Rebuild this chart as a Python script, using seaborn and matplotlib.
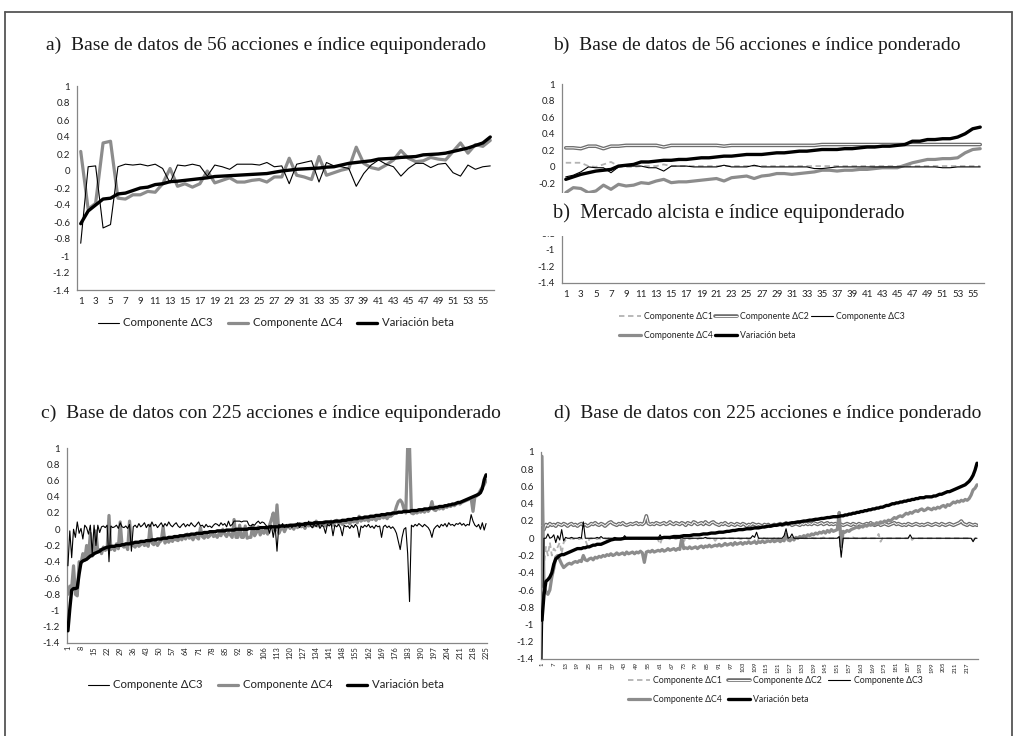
import matplotlib
matplotlib.use("Agg")
import matplotlib.pyplot as plt
import matplotlib.patheffects as pe
from matplotlib.lines import Line2D
from matplotlib.patches import Rectangle
import seaborn as sns

# ------------------------------------------------------------------ data
title_a = "a)  Base de datos de 56 acciones e índice equiponderado"
title_b = "b)  Base de datos de 56 acciones e índice ponderado"
title_b2 = "b)  Mercado alcista e índice equiponderado"
title_c = "c)  Base de datos con 225 acciones e índice equiponderado"
title_d = "d)  Base de datos con 225 acciones e índice ponderado"

lab_c1 = "Componente ΔC1"
lab_c2 = "Componente ΔC2"
lab_c3 = "Componente ΔC3"
lab_c4 = "Componente ΔC4"
lab_beta = "Variación beta"

y_ticks = [1, 0.8, 0.6, 0.4, 0.2, 0, -0.2, -0.4, -0.6, -0.8, -1, -1.2, -1.4]
y_tick_labels = ["1", "0.8", "0.6", "0.4", "0.2", "0", "-0.2", "-0.4", "-0.6",
                 "-0.8", "-1", "-1.2", "-1.4"]

# panel a (56 acciones, equiponderado)
a_c3 = [-0.85, 0.05, 0.06, -0.67, -0.63, 0.05, 0.08, 0.07, 0.08, 0.06,
        0.08, 0.03, -0.14, 0.07, 0.06, 0.08, 0.06, -0.06, 0.07, 0.05,
        0.02, 0.08, 0.08, 0.08, 0.07, 0.10, 0.05, 0.06, -0.15, 0.08,
        0.10, 0.12, -0.13, 0.10, 0.06, 0.05, 0.03, -0.18, -0.03, 0.07,
        0.13, 0.08, 0.05, -0.06, 0.03, 0.09, 0.09, 0.04, 0.08, 0.09,
        -0.02, -0.06, 0.07, 0.02, 0.05, 0.06]
a_c4 = [0.23, -0.45, -0.38, 0.33, 0.35, -0.32, -0.33, -0.28, -0.28, -0.24,
        -0.25, -0.15, 0.03, -0.18, -0.15, -0.19, -0.15, 0.00, -0.14, -0.11,
        -0.08, -0.13, -0.13, -0.11, -0.10, -0.13, -0.07, -0.07, 0.15, -0.05,
        -0.07, -0.10, 0.17, -0.05, -0.02, 0.01, 0.03, 0.28, 0.09, 0.04,
        0.02, 0.07, 0.13, 0.24, 0.15, 0.11, 0.12, 0.16, 0.14, 0.13,
        0.23, 0.33, 0.21, 0.31, 0.29, 0.36]
a_beta = [-0.62, -0.47, -0.40, -0.33, -0.32, -0.27, -0.26, -0.23, -0.20, -0.19,
          -0.16, -0.15, -0.125, -0.12, -0.11, -0.10, -0.09, -0.08, -0.065, -0.06,
          -0.055, -0.05, -0.045, -0.04, -0.035, -0.03, -0.015, 0.0, 0.01, 0.02,
          0.025, 0.03, 0.035, 0.045, 0.05, 0.07, 0.09, 0.10, 0.11, 0.12,
          0.14, 0.145, 0.15, 0.16, 0.165, 0.17, 0.19, 0.195, 0.20, 0.21,
          0.23, 0.25, 0.27, 0.30, 0.33, 0.40]

# panel b (56 acciones, ponderado)
b_c1 = [0.05, 0.05, 0.05, 0.01, 0.00, 0.03, 0.06, 0.01, 0.00, 0.00,
        0.01, 0.01, 0.01, 0.03, 0.01, 0.01, 0.01, 0.01, 0.01, 0.01,
        0.01, 0.01, 0.01, 0.01, 0.01, 0.01, 0.01, 0.01, 0.01, 0.01,
        0.01, 0.01, 0.01, 0.01, 0.01, 0.01, 0.01, 0.01, 0.01, 0.01,
        0.01, 0.01, 0.01, 0.01, 0.01, 0.01, 0.01, 0.01, 0.01, 0.01,
        0.01, 0.01, 0.01, 0.01, 0.01, 0.01]
b_c2 = [0.23, 0.23, 0.22, 0.25, 0.25, 0.22, 0.25, 0.25, 0.26, 0.26,
        0.26, 0.26, 0.26, 0.24, 0.26, 0.26, 0.26, 0.26, 0.26, 0.26,
        0.26, 0.25, 0.26, 0.26, 0.26, 0.26, 0.26, 0.26, 0.26, 0.26,
        0.26, 0.26, 0.26, 0.26, 0.27, 0.27, 0.27, 0.27, 0.27, 0.27,
        0.27, 0.27, 0.27, 0.27, 0.27, 0.27, 0.27, 0.27, 0.27, 0.27,
        0.27, 0.27, 0.27, 0.27, 0.27, 0.27]
b_c3 = [-0.12, -0.10, -0.06, 0.00, -0.01, -0.01, -0.07, 0.00, 0.01, 0.01,
        0.01, -0.01, -0.01, -0.05, 0.01, 0.01, 0.01, 0.00, 0.00, 0.00,
        0.00, 0.02, 0.00, 0.00, 0.00, 0.02, 0.00, 0.00, 0.00, 0.00,
        0.00, 0.00, 0.00, -0.02, -0.02, -0.01, 0.00, 0.00, 0.00, 0.00,
        0.00, 0.00, 0.00, 0.00, 0.00, 0.00, 0.00, 0.00, 0.00, 0.00,
        -0.01, -0.01, 0.00, 0.00, 0.00, 0.00]
b_c4 = [-0.31, -0.25, -0.26, -0.31, -0.29, -0.22, -0.27, -0.21, -0.23, -0.22,
        -0.19, -0.20, -0.17, -0.15, -0.19, -0.18, -0.18, -0.17, -0.16, -0.15,
        -0.14, -0.17, -0.13, -0.12, -0.11, -0.14, -0.11, -0.10, -0.08, -0.08,
        -0.09, -0.08, -0.07, -0.06, -0.04, -0.04, -0.05, -0.04, -0.04, -0.03,
        -0.03, -0.02, -0.01, -0.01, -0.01, 0.02, 0.05, 0.07, 0.09, 0.09,
        0.10, 0.10, 0.11, 0.17, 0.21, 0.22]
b_beta = [-0.15, -0.12, -0.09, -0.07, -0.05, -0.04, -0.03, 0.01, 0.02, 0.03,
          0.06, 0.06, 0.07, 0.08, 0.08, 0.09, 0.09, 0.10, 0.11, 0.11,
          0.12, 0.13, 0.13, 0.14, 0.15, 0.15, 0.15, 0.16, 0.17, 0.17,
          0.18, 0.19, 0.19, 0.20, 0.21, 0.21, 0.21, 0.22, 0.22, 0.23,
          0.24, 0.24, 0.25, 0.25, 0.26, 0.27, 0.31, 0.31, 0.33, 0.33,
          0.34, 0.34, 0.36, 0.40, 0.46, 0.48]

# panel c (225 acciones, equiponderado)
c_c3 = [-0.45, -0.02, -0.35, 0.00, -0.10, 0.09, -0.05, 0.01, -0.12, 0.05,
        0.02, -0.06, 0.05, -0.30, 0.05, -0.20, 0.05, -0.04, 0.03, 0.04,
        0.02, 0.05, -0.40, 0.04, 0.02, 0.03, 0.05, 0.01, 0.08, 0.03,
        0.02, 0.04, 0.01, 0.06, -0.27, 0.03, 0.05, 0.02, 0.07, 0.03,
        0.05, 0.08, 0.02, 0.06, 0.03, 0.09, 0.04, 0.06, 0.02, 0.05,
        0.08, 0.03, 0.07, 0.04, 0.09, 0.05, 0.03, 0.06, 0.08, 0.04,
        0.02, 0.05, 0.07, 0.03, 0.06, 0.04, 0.08, 0.05, 0.03, 0.06,
        0.09, 0.04, 0.05, 0.02, 0.06, 0.03, 0.04, 0.02, 0.05, 0.07,
        0.06, 0.04, 0.08, 0.05, 0.07, 0.03, 0.10, 0.04, 0.06, 0.10,
        0.10, 0.10, 0.10, 0.09, 0.10, 0.10, 0.10, 0.05, 0.04, 0.06,
        0.05, 0.08, 0.10, 0.07, 0.09, 0.08, 0.05, 0.03, -0.05, 0.05,
        -0.10, 0.04, -0.27, 0.06, 0.03, 0.07, 0.02, 0.06, 0.03, 0.05,
        0.02, 0.06, 0.04, 0.08, 0.02, 0.05, 0.07, 0.03, 0.06, 0.10,
        0.04, 0.02, 0.06, 0.03, 0.08, 0.01, 0.05, 0.03, -0.05, 0.06,
        0.04, 0.07, -0.08, 0.05, 0.03, 0.06, 0.02, -0.08, 0.05, 0.03,
        0.04, 0.01, 0.05, 0.02, 0.06, 0.03, -0.10, 0.04, 0.02, 0.05,
        0.03, 0.06, 0.02, 0.04, 0.01, 0.05, 0.03, 0.04, -0.10, 0.03,
        0.05, 0.02, 0.04, 0.01, 0.03, 0.00, -0.05, -0.15, -0.25, -0.10,
        0.00, 0.02, -0.30, -0.89, 0.05, 0.03, 0.06, 0.04, 0.07, 0.05,
        0.03, 0.06, 0.04, 0.02, -0.02, -0.10, 0.00, 0.03, 0.05, 0.02,
        0.06, 0.04, 0.07, 0.03, 0.08, 0.05, 0.06, 0.04, 0.07, 0.06,
        0.08, 0.05, 0.07, 0.04, 0.06, 0.05, 0.18, 0.10, 0.05, 0.03,
        0.06, 0.00, 0.08, -0.01, 0.07]
c_c4 = [-0.80, -0.70, -0.72, -0.45, -0.80, -0.82, -0.40, -0.42, -0.30, -0.38,
        -0.20, -0.35, -0.05, -0.33, -0.30, -0.02, -0.28, -0.25, -0.30, -0.22,
        -0.26, -0.24, 0.17, -0.25, -0.22, -0.26, -0.18, -0.24, 0.09, -0.20,
        -0.22, -0.19, -0.25, 0.10, -0.18, -0.20, -0.22, -0.17, -0.21, -0.19,
        -0.16, -0.20, -0.18, -0.21, 0.05, -0.17, -0.19, -0.15, -0.20, -0.16,
        -0.14, 0.03, -0.17, -0.13, -0.16, -0.12, -0.15, -0.11, -0.13, -0.14,
        -0.10, -0.13, -0.08, -0.12, -0.06, -0.11, -0.09, -0.13, -0.07, -0.10,
        -0.12, 0.02, -0.09, -0.11, -0.06, -0.10, -0.08, -0.03, -0.09, -0.07,
        -0.10, -0.05, -0.08, 0.00, -0.06, -0.09, -0.04, -0.07, -0.10, 0.12,
        -0.10, -0.10, 0.05, -0.10, -0.10, 0.04, -0.11, -0.10, -0.10, 0.05,
        -0.08, -0.04, 0.03, -0.07, -0.02, -0.05, 0.00, -0.06, 0.05, 0.12,
        0.20, -0.02, 0.30, -0.05, 0.00, 0.03, -0.03, 0.02, 0.05, 0.01,
        0.04, 0.00, 0.06, 0.02, 0.07, 0.03, 0.05, 0.01, 0.06, 0.04,
        0.08, 0.03, 0.05, 0.10, 0.04, 0.07, 0.05, 0.09, 0.04, 0.08,
        0.06, 0.10, 0.05, 0.08, 0.11, 0.07, 0.09, 0.06, 0.10, 0.08,
        0.10, 0.07, 0.11, 0.09, 0.12, 0.08, 0.16, 0.10, 0.12, 0.11,
        0.13, 0.10, 0.14, 0.12, 0.15, 0.11, 0.14, 0.13, 0.17, 0.14,
        0.16, 0.13, 0.17, 0.16, 0.18, 0.20, 0.28, 0.34, 0.36, 0.33,
        0.25, 0.20, 1.02, 1.02, 0.20, 0.19, 0.21, 0.20, 0.22, 0.21,
        0.23, 0.21, 0.24, 0.22, 0.25, 0.34, 0.24, 0.23, 0.26, 0.25,
        0.27, 0.25, 0.28, 0.27, 0.29, 0.28, 0.30, 0.29, 0.31, 0.32,
        0.31, 0.33, 0.34, 0.35, 0.36, 0.37, 0.38, 0.22, 0.40, 0.41,
        0.44, 0.48, 0.52, 0.55, 0.60]
c_beta = [-1.25, -0.98, -0.75, -0.73, -0.73, -0.72, -0.55, -0.41, -0.39, -0.38,
          -0.37, -0.35, -0.33, -0.32, -0.30, -0.29, -0.28, -0.27, -0.25, -0.24,
          -0.23, -0.22, -0.22, -0.21, -0.21, -0.21, -0.20, -0.20, -0.20, -0.19,
          -0.19, -0.18, -0.18, -0.18, -0.17, -0.17, -0.16, -0.16, -0.16, -0.15,
          -0.15, -0.15, -0.14, -0.14, -0.14, -0.13, -0.13, -0.13, -0.12, -0.12,
          -0.12, -0.11, -0.11, -0.11, -0.10, -0.10, -0.10, -0.09, -0.09, -0.09,
          -0.08, -0.08, -0.08, -0.07, -0.07, -0.07, -0.06, -0.06, -0.06, -0.05,
          -0.05, -0.05, -0.05, -0.04, -0.04, -0.04, -0.03, -0.03, -0.03, -0.03,
          -0.02, -0.02, -0.02, -0.02, -0.02, -0.01, -0.01, -0.01, -0.01, -0.01,
          0.00, 0.00, 0.00, 0.00, 0.00, 0.00, 0.00, 0.01, 0.01, 0.01,
          0.01, 0.01, 0.01, 0.02, 0.02, 0.02, 0.02, 0.02, 0.03, 0.03,
          0.03, 0.03, 0.03, 0.03, 0.04, 0.04, 0.04, 0.04, 0.04, 0.05,
          0.05, 0.05, 0.05, 0.06, 0.06, 0.06, 0.06, 0.07, 0.07, 0.07,
          0.07, 0.07, 0.08, 0.08, 0.08, 0.08, 0.08, 0.08, 0.09, 0.09,
          0.09, 0.09, 0.09, 0.10, 0.10, 0.10, 0.10, 0.11, 0.11, 0.11,
          0.12, 0.12, 0.12, 0.13, 0.13, 0.13, 0.14, 0.14, 0.14, 0.15,
          0.15, 0.15, 0.16, 0.16, 0.16, 0.17, 0.17, 0.17, 0.18, 0.18,
          0.18, 0.19, 0.19, 0.19, 0.20, 0.20, 0.20, 0.21, 0.21, 0.21,
          0.22, 0.22, 0.22, 0.22, 0.23, 0.23, 0.23, 0.23, 0.24, 0.24,
          0.24, 0.25, 0.25, 0.25, 0.26, 0.26, 0.26, 0.27, 0.27, 0.28,
          0.28, 0.28, 0.29, 0.29, 0.30, 0.30, 0.31, 0.31, 0.32, 0.33,
          0.33, 0.34, 0.35, 0.36, 0.37, 0.38, 0.39, 0.40, 0.41, 0.42,
          0.43, 0.45, 0.50, 0.61, 0.67]

# panel d (225 acciones, ponderado; 222 valores)
d_c1 = [-1.10, -0.30, -0.10, -0.20, -0.05, -0.20, -0.12, -0.15, -0.10, -0.05,
        -0.18, -0.05, -0.02, -0.01, -0.01, 0.00, -0.01, 0.00, -0.01, -0.01,
        0.00, -0.01, -0.02, -0.08, -0.01, 0.00, -0.01, 0.00, -0.01, 0.00,
        -0.01, 0.00, 0.00, -0.01, 0.00, 0.00, -0.01, 0.00, 0.00, -0.01,
        0.00, 0.00, -0.01, 0.00, 0.00, -0.01, 0.00, 0.00, 0.00, -0.01,
        0.00, 0.00, -0.01, 0.00, 0.00, 0.00, -0.01, 0.00, 0.00, -0.02,
        -0.07, 0.00, -0.01, 0.00, 0.00, -0.01, 0.00, 0.00, -0.01, 0.00,
        0.00, -0.01, -0.04, 0.00, 0.00, -0.01, 0.00, 0.00, 0.00, -0.01,
        0.00, 0.00, -0.01, 0.00, 0.00, 0.00, -0.01, 0.00, -0.03, 0.00,
        0.00, -0.01, 0.00, 0.00, -0.01, 0.00, 0.00, 0.00, -0.01, 0.00,
        0.00, -0.01, 0.00, 0.00, 0.00, -0.01, 0.00, 0.00, -0.02, -0.08,
        0.00, -0.01, 0.00, 0.00, -0.01, 0.00, 0.00, -0.01, 0.00, -0.04,
        0.00, -0.01, 0.00, 0.00, 0.01, 0.00, 0.00, 0.00, 0.00, 0.00,
        0.00, 0.00, 0.01, 0.00, 0.00, 0.00, 0.00, 0.01, 0.00, 0.00,
        0.00, 0.00, 0.00, 0.01, 0.00, 0.00, 0.00, 0.00, 0.00, 0.00,
        0.01, 0.00, -0.03, 0.00, 0.00, 0.00, 0.00, 0.00, 0.01, 0.00,
        0.00, 0.00, 0.00, 0.00, 0.00, 0.01, 0.00, 0.00, 0.00, 0.00,
        0.00, 0.05, -0.04, 0.00, 0.00, 0.00, 0.00, 0.00, 0.00, 0.00,
        0.00, 0.00, 0.00, 0.00, 0.00, 0.00, 0.00, 0.03, -0.02, 0.00,
        0.00, 0.00, 0.00, 0.00, 0.00, 0.00, 0.00, 0.00, 0.00, 0.00,
        0.00, 0.00, 0.00, 0.00, 0.00, 0.00, 0.00, 0.00, 0.00, 0.00,
        0.00, 0.00, 0.00, 0.00, 0.00, 0.00, 0.00, 0.00, 0.00, -0.02,
        0.00, 0.00]
d_c2 = [0.15, 0.10, 0.16, 0.14, 0.17, 0.15, 0.16, 0.14, 0.17, 0.16,
        0.15, 0.17, 0.16, 0.14, 0.16, 0.17, 0.15, 0.16, 0.14, 0.16,
        0.17, 0.15, 0.16, 0.14, 0.15, 0.17, 0.16, 0.18, 0.16, 0.15,
        0.17, 0.16, 0.14, 0.16, 0.18, 0.19, 0.17, 0.16, 0.15, 0.17,
        0.16, 0.18, 0.16, 0.15, 0.16, 0.17, 0.16, 0.17, 0.18, 0.16,
        0.17, 0.16, 0.18, 0.26, 0.17, 0.16, 0.17, 0.16, 0.18, 0.17,
        0.16, 0.17, 0.18, 0.16, 0.17, 0.19, 0.17, 0.16, 0.18, 0.17,
        0.16, 0.18, 0.17, 0.15, 0.18, 0.17, 0.16, 0.19, 0.18, 0.16,
        0.17, 0.18, 0.16, 0.19, 0.17, 0.16, 0.18, 0.19, 0.17, 0.16,
        0.15, 0.17, 0.16, 0.18, 0.16, 0.15, 0.17, 0.16, 0.15, 0.17,
        0.16, 0.15, 0.17, 0.16, 0.14, 0.16, 0.15, 0.17, 0.16, 0.15,
        0.16, 0.15, 0.14, 0.16, 0.15, 0.16, 0.14, 0.15, 0.16, 0.15,
        0.16, 0.17, 0.15, 0.16, 0.18, 0.16, 0.17, 0.15, 0.16, 0.17,
        0.16, 0.15, 0.17, 0.16, 0.18, 0.16, 0.17, 0.16, 0.18, 0.17,
        0.16, 0.17, 0.18, 0.16, 0.17, 0.18, 0.16, 0.17, 0.16, 0.17,
        0.16, 0.17, 0.16, 0.15, 0.16, 0.17, 0.16, 0.15, 0.17, 0.16,
        0.15, 0.17, 0.16, 0.15, 0.16, 0.17, 0.16, 0.18, 0.16, 0.15,
        0.16, 0.17, 0.15, 0.16, 0.17, 0.16, 0.15, 0.16, 0.17, 0.18,
        0.16, 0.17, 0.16, 0.15, 0.16, 0.15, 0.17, 0.16, 0.15, 0.16,
        0.17, 0.16, 0.15, 0.16, 0.15, 0.16, 0.17, 0.16, 0.15, 0.16,
        0.17, 0.16, 0.15, 0.17, 0.16, 0.15, 0.16, 0.17, 0.16, 0.15,
        0.16, 0.17, 0.18, 0.20, 0.17, 0.16, 0.15, 0.17, 0.16, 0.15,
        0.16, 0.15]
d_c3 = [-1.45, 0.00, 0.00, 0.05, 0.00, 0.01, 0.04, -0.05, 0.03, -0.02,
        0.10, -0.03, 0.01, 0.00, 0.00, 0.01, 0.00, 0.00, 0.00, 0.01,
        0.00, 0.19, 0.00, 0.00, 0.00, 0.00, 0.00, 0.00, 0.01, 0.00,
        0.02, 0.00, 0.00, 0.00, 0.00, 0.00, 0.00, 0.01, 0.00, 0.00,
        0.00, 0.00, 0.03, 0.00, 0.00, 0.00, 0.00, 0.00, 0.00, 0.00,
        0.00, 0.00, 0.00, 0.00, 0.00, 0.00, 0.00, 0.00, 0.00, 0.00,
        0.04, 0.00, 0.00, 0.00, 0.00, 0.00, 0.00, 0.00, 0.00, 0.00,
        0.00, 0.01, 0.00, 0.00, 0.00, 0.00, 0.00, 0.00, 0.00, 0.00,
        0.00, 0.00, 0.00, 0.01, 0.00, 0.00, 0.00, 0.00, 0.00, 0.00,
        0.00, 0.00, 0.00, 0.00, 0.00, 0.00, 0.00, 0.00, 0.00, 0.00,
        0.00, 0.00, 0.00, 0.00, 0.00, 0.00, 0.00, 0.03, 0.01, 0.07,
        0.00, 0.00, 0.00, 0.00, 0.00, 0.00, 0.00, 0.00, 0.00, 0.00,
        0.00, 0.00, 0.00, 0.03, 0.11, 0.00, 0.01, 0.05, 0.00, 0.00,
        0.00, 0.00, 0.00, 0.00, 0.00, 0.00, 0.00, 0.00, 0.00, 0.00,
        0.00, 0.00, 0.00, 0.00, 0.00, 0.00, 0.00, 0.00, 0.00, 0.00,
        0.00, 0.02, -0.22, 0.00, 0.00, 0.00, 0.00, 0.00, 0.00, 0.00,
        0.00, 0.00, 0.00, 0.00, 0.00, 0.00, 0.00, 0.00, 0.00, 0.00,
        0.00, 0.00, 0.00, 0.00, 0.00, 0.00, 0.00, 0.00, 0.00, 0.00,
        0.00, 0.00, 0.00, 0.00, 0.00, 0.00, 0.00, 0.04, 0.00, 0.00,
        0.00, 0.00, 0.00, 0.00, 0.00, 0.00, 0.00, 0.00, 0.00, 0.00,
        0.00, 0.00, 0.00, 0.00, 0.00, 0.00, 0.00, 0.00, 0.00, 0.00,
        0.00, 0.00, 0.00, 0.00, 0.00, 0.00, 0.00, 0.00, 0.00, -0.04,
        0.00, 0.00]
d_c4 = [0.95, -0.55, -0.62, -0.65, -0.60, -0.45, -0.35, -0.22, -0.20, -0.25,
        -0.30, -0.34, -0.32, -0.30, -0.29, -0.30, -0.28, -0.27, -0.28, -0.26,
        -0.27, -0.20, -0.25, -0.26, -0.24, -0.23, -0.25, -0.22, -0.23, -0.21,
        -0.22, -0.20, -0.21, -0.19, -0.20, -0.18, -0.20, -0.19, -0.17, -0.19,
        -0.18, -0.17, -0.19, -0.16, -0.18, -0.17, -0.16, -0.18, -0.16, -0.17,
        -0.15, -0.17, -0.28, -0.16, -0.15, -0.16, -0.14, -0.16, -0.15, -0.14,
        -0.15, -0.13, -0.15, -0.14, -0.12, -0.14, -0.13, -0.12, -0.14, -0.12,
        -0.13, 0.00, -0.12, -0.11, -0.12, -0.10, -0.12, -0.11, -0.10, -0.12,
        -0.10, -0.09, -0.11, -0.09, -0.10, -0.08, -0.10, -0.09, -0.08, -0.09,
        -0.07, -0.09, -0.08, -0.06, -0.08, -0.07, -0.06, -0.08, -0.05, -0.07,
        -0.06, -0.05, -0.07, -0.05, -0.06, -0.04, -0.06, -0.05, -0.04, -0.06,
        -0.04, -0.05, -0.03, -0.05, -0.04, -0.03, -0.04, -0.02, -0.04, -0.03,
        -0.02, -0.04, -0.02, -0.03, 0.05, -0.02, -0.03, 0.00, -0.02, 0.01,
        0.00, 0.02, 0.01, 0.03, 0.02, 0.04, 0.03, 0.05, 0.04, 0.06,
        0.05, 0.07, 0.06, 0.08, 0.06, 0.09, 0.07, 0.10, 0.08, 0.09,
        0.10, 0.30, -0.10, 0.08, 0.07, 0.09, 0.08, 0.10, 0.11, 0.12,
        0.13, 0.12, 0.14, 0.13, 0.15, 0.14, 0.16, 0.15, 0.17, 0.16,
        0.18, 0.17, 0.19, 0.18, 0.20, 0.19, 0.21, 0.20, 0.22, 0.24,
        0.23, 0.25, 0.26, 0.25, 0.27, 0.29, 0.28, 0.30, 0.29, 0.31,
        0.32, 0.31, 0.33, 0.34, 0.32, 0.33, 0.35, 0.34, 0.33, 0.35,
        0.34, 0.36, 0.35, 0.37, 0.38, 0.36, 0.39, 0.38, 0.40, 0.42,
        0.41, 0.43, 0.42, 0.44, 0.43, 0.45, 0.44, 0.46, 0.50, 0.56,
        0.58, 0.62]
d_beta = [-0.95, -0.66, -0.50, -0.48, -0.45, -0.40, -0.30, -0.24, -0.22, -0.20,
          -0.19, -0.19, -0.18, -0.17, -0.16, -0.15, -0.14, -0.13, -0.12, -0.12,
          -0.12, -0.11, -0.11, -0.10, -0.10, -0.09, -0.08, -0.08, -0.07, -0.07,
          -0.07, -0.06, -0.05, -0.04, -0.03, -0.02, -0.015, -0.01, -0.01, -0.01,
          -0.01, -0.005, 0.00, 0.00, 0.00, 0.00, 0.00, 0.00, 0.00, 0.00,
          0.00, 0.00, 0.00, 0.00, 0.00, 0.00, 0.00, 0.00, 0.00, 0.00,
          0.00, 0.005, 0.01, 0.01, 0.01, 0.01, 0.015, 0.02, 0.02, 0.02,
          0.02, 0.025, 0.03, 0.03, 0.03, 0.03, 0.035, 0.04, 0.04, 0.04,
          0.04, 0.045, 0.05, 0.05, 0.05, 0.055, 0.06, 0.06, 0.06, 0.065,
          0.07, 0.07, 0.07, 0.075, 0.08, 0.08, 0.085, 0.09, 0.09, 0.095,
          0.10, 0.10, 0.10, 0.105, 0.11, 0.11, 0.11, 0.115, 0.12, 0.12,
          0.12, 0.125, 0.13, 0.13, 0.135, 0.14, 0.14, 0.145, 0.15, 0.15,
          0.155, 0.16, 0.16, 0.165, 0.17, 0.17, 0.175, 0.18, 0.18, 0.185,
          0.19, 0.19, 0.195, 0.20, 0.20, 0.205, 0.21, 0.21, 0.215, 0.22,
          0.22, 0.225, 0.23, 0.23, 0.235, 0.24, 0.24, 0.245, 0.25, 0.25,
          0.25, 0.255, 0.26, 0.26, 0.27, 0.27, 0.28, 0.28, 0.29, 0.29,
          0.30, 0.30, 0.31, 0.31, 0.32, 0.32, 0.33, 0.33, 0.34, 0.34,
          0.35, 0.35, 0.36, 0.36, 0.37, 0.38, 0.38, 0.39, 0.40, 0.40,
          0.41, 0.41, 0.42, 0.42, 0.43, 0.43, 0.44, 0.44, 0.45, 0.45,
          0.46, 0.46, 0.47, 0.47, 0.47, 0.48, 0.48, 0.48, 0.48, 0.49,
          0.49, 0.50, 0.51, 0.51, 0.52, 0.53, 0.54, 0.54, 0.55, 0.56,
          0.57, 0.58, 0.59, 0.60, 0.61, 0.62, 0.64, 0.66, 0.69, 0.73,
          0.79, 0.87]

# ------------------------------------------------------------------ style
sns.set_style("white")
SANS = ["Lato", "DejaVu Sans"]
SERIF = ["Liberation Serif", "DejaVu Serif"]
plt.rcParams["font.family"] = SANS

W, H = 1017, 736
fig = plt.figure(figsize=(W / 100, H / 100), dpi=100)
fig.patch.set_facecolor("white")

GRAY = "#8c8c8c"
LGRAY = "#b3b3b3"
DGRAY = "#6e6e6e"
AXC = "#868686"
TICK_FS = 7.0


def px_rect(l, r, t, b):
    return [l / W, 1 - b / H, (r - l) / W, (b - t) / H]


def style_axes(ax, n, step, rot_fs=None):
    rotate = rot_fs is not None
    ax.set_xlim(0.5, n + 0.5)
    ax.set_ylim(-1.4, 1.0)
    sns.despine(ax=ax)
    for s in ("left", "bottom"):
        ax.spines[s].set_color(AXC)
        ax.spines[s].set_linewidth(0.9)
    ax.set_yticks(y_ticks)
    ax.set_yticklabels(y_tick_labels, fontsize=TICK_FS)
    ax.tick_params(axis="y", direction="out", length=3, width=0.7, color=AXC, pad=2)
    # tick marks between categories, labels on categories
    ax.set_xticks([i + 0.5 for i in range(0, n + 1)])
    ax.set_xticklabels([])
    ax.tick_params(axis="x", which="major", direction="out",
                   length=3 if not rotate else 1.6, width=0.6, color=AXC)
    lab_pos = list(range(1, n + 1, step))
    ax.set_xticks(lab_pos, minor=True)
    ax.set_xticklabels([str(v) for v in lab_pos], minor=True,
                       fontsize=rot_fs if rotate else TICK_FS,
                       rotation=90 if rotate else 0)
    ax.tick_params(axis="x", which="minor", length=0, pad=5 if not rotate else 2.2)
    ax.set_xlabel("")
    ax.set_ylabel("")
    for t in ax.get_xticklabels(minor=True) + ax.get_yticklabels():
        t.set_color("#222222")


def draw(ax, vals, kind):
    x = list(range(1, len(vals) + 1))
    if kind == "c1":
        sns.lineplot(x=x, y=vals, ax=ax, color=LGRAY, linewidth=1.3,
                     linestyle=(0, (3, 2)), zorder=2)
    elif kind == "c2":
        sns.lineplot(x=x, y=vals, ax=ax, color="white", linewidth=0.7, zorder=3,
                     path_effects=[pe.Stroke(linewidth=2.6, foreground=DGRAY), pe.Normal()])
    elif kind == "c3":
        sns.lineplot(x=x, y=vals, ax=ax, color="black", linewidth=0.8, zorder=4)
    elif kind == "c4":
        sns.lineplot(x=x, y=vals, ax=ax, color=GRAY, linewidth=2.3, zorder=3)
    else:
        sns.lineplot(x=x, y=vals, ax=ax, color="black", linewidth=2.4, zorder=5)


def handles():
    return {
        "c1": Line2D([], [], color=LGRAY, linewidth=1.3, linestyle=(0, (3, 2))),
        "c2": Line2D([], [], color="white", linewidth=0.7,
                     path_effects=[pe.Stroke(linewidth=2.6, foreground=DGRAY), pe.Normal()]),
        "c3": Line2D([], [], color="black", linewidth=0.8),
        "c4": Line2D([], [], color=GRAY, linewidth=2.3),
        "beta": Line2D([], [], color="black", linewidth=2.4),
    }


H_ = handles()

# ---- panel a
ax_a = fig.add_axes(px_rect(77, 494, 86, 290))
draw(ax_a, a_c3, "c3")
draw(ax_a, a_c4, "c4")
draw(ax_a, a_beta, "beta")
style_axes(ax_a, len(a_beta), 2)

# ---- panel b
ax_b = fig.add_axes(px_rect(562, 984, 84, 283))
draw(ax_b, b_c1, "c1")
draw(ax_b, b_c2, "c2")
draw(ax_b, b_c3, "c3")
draw(ax_b, b_c4, "c4")
draw(ax_b, b_beta, "beta")
style_axes(ax_b, len(b_beta), 2)
# the labels -0.4 and -0.6 lie fully under the overlaid white title box
for t, v in zip(ax_b.get_yticklabels(), y_ticks):
    if v in (-0.4, -0.6):
        t.set_visible(False)

# ---- panel c
ax_c = fig.add_axes(px_rect(67, 487, 448, 643))
draw(ax_c, c_c3, "c3")
draw(ax_c, c_c4, "c4")
draw(ax_c, c_beta, "beta")
style_axes(ax_c, len(c_beta), 7, rot_fs=5.3)

# ---- panel d
ax_d = fig.add_axes(px_rect(541, 978, 452, 659))
draw(ax_d, d_c1, "c1")
draw(ax_d, d_c2, "c2")
draw(ax_d, d_c3, "c3")
draw(ax_d, d_c4, "c4")
draw(ax_d, d_beta, "beta")
style_axes(ax_d, len(d_beta), 6, rot_fs=4.3)


# ---- titles
def ftext(x, y, s, fs=14, **kw):
    fig.text(x / W, 1 - y / H, s, ha="center", va="center", family=SERIF,
             fontsize=fs, color="#1a1a1a", **kw)


ftext(266, 45, title_a)
ftext(757, 45, title_b)
ftext(271, 413, title_c)
ftext(768, 413, title_d)

# white box with the overlaid title inside panel b
fig.add_artist(Rectangle((515 / W, 1 - 236 / H), (1005 - 515) / W, (236 - 193) / H,
                         transform=fig.transFigure, facecolor="white",
                         edgecolor="none", zorder=10))
fig.text(553 / W, 1 - 213 / H, title_b2, ha="left", va="center", family=SERIF,
         fontsize=14.7, color="#1a1a1a", zorder=11)


# ---- legends
def leg(hs, labels, cx, cy, ncol, colsp, fs, hl=1.9, lsp=0.9):
    lg = fig.legend(hs, labels, loc="center", bbox_to_anchor=(cx / W, 1 - cy / H),
                    ncol=ncol, frameon=False, fontsize=fs, handlelength=hl,
                    handletextpad=0.4, columnspacing=colsp, labelspacing=lsp,
                    borderpad=0.0)
    for t in lg.get_texts():
        t.set_color("#222222")
    return lg


leg([H_["c3"], H_["c4"], H_["beta"]], [lab_c3, lab_c4, lab_beta], 276, 323, 3, 1.3, 8.2, 1.8)
leg([H_["c3"], H_["c4"], H_["beta"]], [lab_c3, lab_c4, lab_beta], 266, 685, 3, 1.3, 8.2, 1.8)
# row-major order for two-row legends: C1 C2 C3 / C4 beta
order_h = [H_["c1"], H_["c4"], H_["c2"], H_["beta"], H_["c3"]]
order_l = [lab_c1, lab_c4, lab_c2, lab_beta, lab_c3]
leg(order_h, order_l, 762, 326, 3, 0.2, 6.3, 2.5, 1.2)
leg(order_h, order_l, 775, 690, 3, 0.7, 6.3, 2.5, 1.1)

# ---- outer frame (left, top, right)
for xs, ys in (([5, 5], [736, 12]), ([5, 1012], [12, 12]), ([1012, 1012], [12, 736])):
    fig.add_artist(Line2D([x / W for x in xs], [1 - y / H for y in ys],
                          transform=fig.transFigure, color="#555555", linewidth=1.3))

fig.savefig("out.png", dpi=100, facecolor="white")
